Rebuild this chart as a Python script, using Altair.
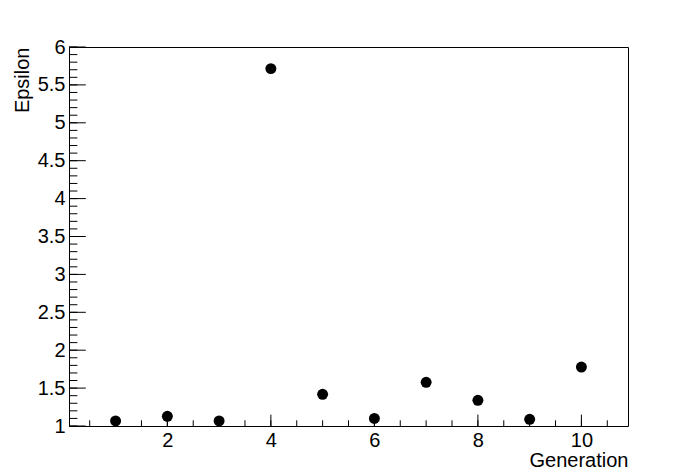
import altair as alt
import pandas as pd

# Data
generation = [1, 2, 3, 4, 5, 6, 7, 8, 9, 10]
epsilon = [1.066, 1.128, 1.066, 5.715, 1.418, 1.100, 1.576, 1.339, 1.088, 1.778]

# Axis tick positions
x_major = [2, 4, 6, 8, 10]
x_minor = [0.5, 1, 1.5, 2, 2.5, 3, 3.5, 4, 4.5, 5, 5.5, 6, 6.5, 7, 7.5,
           8, 8.5, 9, 9.5, 10, 10.5]
y_major = [1, 1.5, 2, 2.5, 3, 3.5, 4, 4.5, 5, 5.5, 6]
y_minor = [1.0, 1.1, 1.2, 1.3, 1.4, 1.5, 1.6, 1.7, 1.8, 1.9,
           2.0, 2.1, 2.2, 2.3, 2.4, 2.5, 2.6, 2.7, 2.8, 2.9,
           3.0, 3.1, 3.2, 3.3, 3.4, 3.5, 3.6, 3.7, 3.8, 3.9,
           4.0, 4.1, 4.2, 4.3, 4.4, 4.5, 4.6, 4.7, 4.8, 4.9,
           5.0, 5.1, 5.2, 5.3, 5.4, 5.5, 5.6, 5.7, 5.8, 5.9, 6.0]

W, H = 559, 379
FONT = "Liberation Sans"
FS = 20

xs = alt.Scale(domain=[0.1, 10.9], nice=False, zero=False)
ys = alt.Scale(domain=[1, 6], nice=False, zero=False)

xaxis = alt.Axis(values=x_major, format="d", ticks=False, tickSize=0, domain=False,
                 grid=False, labelFont=FONT, labelFontSize=FS, labelColor="black",
                 labelPadding=4, labelFlush=False, title="Generation",
                 titleFont=FONT, titleFontSize=FS, titleFontWeight="normal",
                 titleColor="black", titleAnchor="end", titleAlign="right",
                 titleBaseline="alphabetic", titleX=W, titleY=40)
yaxis = alt.Axis(values=y_major, format="~g", ticks=False, tickSize=0, domain=False,
                 grid=False, labelFont=FONT, labelFontSize=FS, labelColor="black",
                 labelPadding=4, labelFlush=False, title="Epsilon",
                 titleFont=FONT, titleFontSize=FS, titleFontWeight="normal",
                 titleColor="black", titleAngle=270, titleAlign="right",
                 titleBaseline="alphabetic", titleX=-41, titleY=0)

X = alt.X("x:Q", scale=xs, axis=xaxis)
Y = alt.Y("y:Q", scale=ys, axis=yaxis)

pts = pd.DataFrame({"x": generation, "y": epsilon})
points = alt.Chart(pts).mark_circle(size=120, color="black", opacity=1).encode(x=X, y=Y)

xmaj = alt.Chart(pd.DataFrame({"x": x_major})).mark_rule(color="black", strokeWidth=1).encode(
    x=X, y=alt.value(H), y2=alt.value(H - 11.4))
xmin = alt.Chart(pd.DataFrame({"x": x_minor})).mark_rule(color="black", strokeWidth=1).encode(
    x=X, y=alt.value(H), y2=alt.value(H - 5.7))
ymaj = alt.Chart(pd.DataFrame({"y": y_major})).mark_rule(color="black", strokeWidth=1).encode(
    y=Y, x=alt.value(0), x2=alt.value(16.8))
ymin = alt.Chart(pd.DataFrame({"y": y_minor})).mark_rule(color="black", strokeWidth=1).encode(
    y=Y, x=alt.value(0), x2=alt.value(8.4))

chart = alt.layer(xmin, xmaj, ymin, ymaj, points).properties(
    width=W, height=H,
    autosize=alt.AutoSizeParams(type="none"),
    padding={"left": 61, "top": 39, "right": 30, "bottom": 44},
    background="white",
).configure_view(stroke="black", strokeWidth=1)

chart.save("out.html", embed_options={"renderer": "svg", "actions": False})
